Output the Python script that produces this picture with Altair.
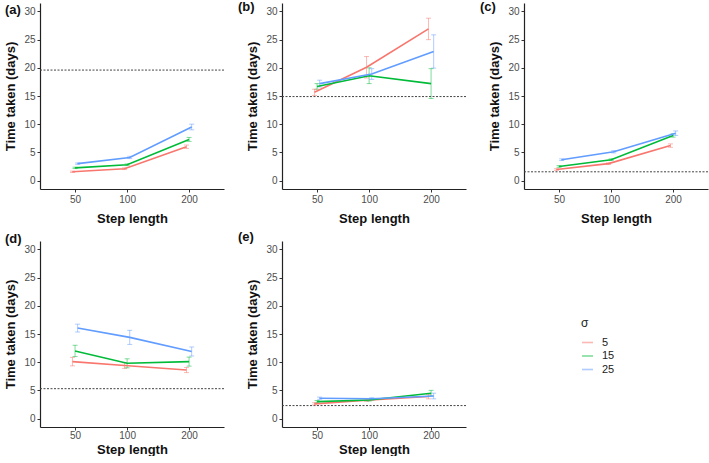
import altair as alt
import pandas as pd

panels = ["(a)", "(b)", "(c)", "(d)", "(e)"]
steps = [50, 100, 200]
sigmas = ["5", "15", "25"]
colors = ["#F8766D", "#00BA38", "#619CFF"]

# mean time taken per panel, sigma -> values at steps 50, 100, 200
mean_a = {"5": [1.55, 2.1, 6.0], "15": [2.25, 2.8, 7.3], "25": [3.0, 4.1, 9.5]}
mean_b = {"5": [15.65, 20.1, 26.9], "15": [16.7, 18.6, 17.2], "25": [17.2, 18.9, 22.9]}
mean_c = {"5": [1.95, 3.0, 6.2], "15": [2.5, 3.7, 8.0], "25": [3.7, 5.1, 8.4]}
mean_d = {"5": [10.1, 9.4, 8.6], "15": [12.0, 9.8, 10.1], "25": [16.05, 14.4, 11.9]}
mean_e = {"5": [2.6, 3.25, 3.9], "15": [3.0, 3.3, 4.5], "25": [3.6, 3.5, 4.0]}

# half-width of the error bars
err_a = {"5": [0.12, 0.15, 0.3], "15": [0.12, 0.15, 0.35], "25": [0.12, 0.2, 0.5]}
err_b = {"5": [0.55, 1.9, 1.9], "15": [0.5, 1.4, 2.65], "25": [0.6, 0.95, 2.95]}
err_c = {"5": [0.15, 0.15, 0.3], "15": [0.15, 0.15, 0.3], "25": [0.15, 0.2, 0.4]}
err_d = {"5": [0.75, 0.5, 0.45], "15": [1.0, 0.8, 0.8], "25": [0.7, 1.25, 0.8]}
err_e = {"5": [0.2, 0.2, 0.4], "15": [0.2, 0.2, 0.5], "25": [0.2, 0.2, 0.5]}

thresholds = [19.6, 14.9, 1.55, 5.3, 2.3]

means = [mean_a, mean_b, mean_c, mean_d, mean_e]
errs = [err_a, err_b, err_c, err_d, err_e]

rows = []
for p, m, e in zip(panels, means, errs):
    for s in sigmas:
        for k, st in enumerate(steps):
            rows.append({"panel": p, "step": st, "sigma": s, "mean": m[s][k], "err": e[s][k]})
df = pd.DataFrame(rows)

FONT = "Liberation Sans"
YTITLE = "Time taken (days)"

xscale = alt.Scale(type="pow", exponent=0.25, domain=[29, 282], nice=False, zero=False)
yscale = alt.Scale(domain=[-1.5, 31.5], nice=False, zero=False)
xaxis_top = alt.Axis(values=steps, title="Step length", format="d", titlePadding=8)
xaxis_bottom = alt.Axis(values=steps, title="Step length", format="d",
                        titlePadding=3, labelPadding=0)
yaxis = alt.Axis(values=[0, 5, 10, 15, 20, 25, 30], title=YTITLE)
color = alt.Color(
    "sigma:N",
    scale=alt.Scale(domain=sigmas, range=colors),
    sort=sigmas,
    legend=alt.Legend(
        title="σ", orient="none", legendX=541, legendY=315,
        symbolType="stroke", symbolSize=121, symbolStrokeWidth=1.6,
        labelFontSize=11, titleFontSize=12, titleFontWeight="normal",
        labelFont=FONT, titleFont=FONT, labelOffset=8, rowPadding=1.5,
        titlePadding=6, labelColor="#222", titleColor="#222",
    ),
)

label_x = [-35, -44, -44, -35, -44]
label_y = [7, 4, 4, -2, -4]


def make_panel(i):
    d = df[df.panel == panels[i]]
    base = alt.Chart(d).transform_calculate(
        xd="pow(pow(datum.step, 0.25) + (indexof(['5','15','25'], datum.sigma) - 1) * 0.025, 4)",
        lo="datum.mean - datum.err",
        hi="datum.mean + datum.err",
    )
    xaxis = xaxis_top if i < 3 else xaxis_bottom
    x = alt.X("xd:Q", scale=xscale, axis=xaxis)
    bars = base.mark_errorbar(
        ticks={"size": 5, "opacity": 0.5}, rule={"opacity": 0.5, "strokeWidth": 1}
    ).encode(
        x=x,
        y=alt.Y("lo:Q", scale=yscale, axis=yaxis, title=YTITLE),
        y2="hi:Q",
        color=color,
    )
    lines = base.mark_line(strokeWidth=1.6).encode(
        x=x,
        y=alt.Y("mean:Q", scale=yscale, axis=yaxis, title=YTITLE),
        color=color,
    )
    thr = alt.Chart(pd.DataFrame({"thr": [thresholds[i]]})).mark_rule(
        strokeDash=[2, 1.5], color="#444444", strokeWidth=1
    ).encode(y=alt.Y("thr:Q", scale=yscale, axis=yaxis, title=YTITLE))
    lab = alt.Chart(pd.DataFrame({"lab": [panels[i]]})).mark_text(
        align="left", baseline="middle", fontWeight="bold", fontSize=13, font=FONT, color="#111"
    ).encode(text="lab:N", x=alt.value(label_x[i]), y=alt.value(label_y[i]))
    return alt.layer(thr, bars, lines, lab).properties(width=184, height=186)


row1 = alt.hconcat(make_panel(0), make_panel(1), make_panel(2), spacing=13)
row2 = alt.hconcat(make_panel(3), make_panel(4), spacing=13)

chart = alt.vconcat(row1, row2, spacing=6).properties(
    padding={"left": 4, "top": 1, "right": 0, "bottom": 0}
).configure_view(stroke=None).configure_axis(
    grid=False,
    domainColor="#222",
    domainWidth=1.2,
    tickColor="#333",
    tickSize=3,
    labelColor="#4d4d4d",
    labelFontSize=10,
    labelFont=FONT,
    labelPadding=2,
    titleFont=FONT,
    titleFontSize=13,
    titleFontWeight="bold",
    titleColor="#111",
).configure_axisY(titlePadding=6)

chart.save("out.html", embed_options={"renderer": "svg", "actions": False})
